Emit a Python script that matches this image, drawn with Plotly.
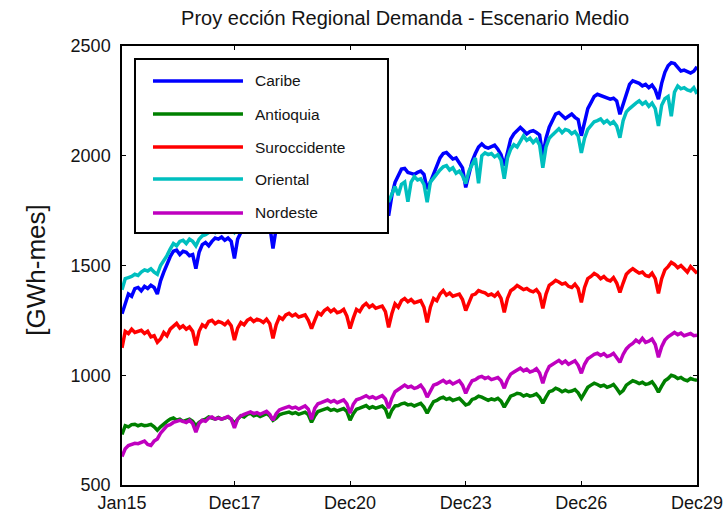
import plotly.graph_objects as go

# Monthly index Jan15 .. Dec29 (180 months)
months = list(range(1, 181))
tick_positions = [1, 36, 72, 108, 144, 180]
tick_labels = ["Jan15", "Dec17", "Dec20", "Dec23", "Dec26", "Dec29"]
y_ticks = [500, 1000, 1500, 2000, 2500]

caribe = [
    1280, 1320, 1370, 1360, 1395, 1400, 1385, 1405, 1395, 1410, 1400, 1370,
    1430, 1470, 1510, 1540, 1565, 1570, 1550, 1565, 1560, 1545, 1550, 1486,
    1560, 1595, 1605, 1590, 1610, 1625, 1620, 1630, 1615, 1625, 1610, 1532,
    1620, 1650, 1665, 1680, 1690, 1700, 1685, 1690, 1680, 1695, 1680, 1577,
    1670, 1700, 1720, 1735, 1750, 1745, 1730, 1740, 1735, 1750, 1730, 1665,
    1720, 1745, 1770, 1785, 1800, 1810, 1790, 1795, 1785, 1800, 1790, 1700,
    1770, 1800, 1820, 1840, 1855, 1860, 1845, 1850, 1840, 1855, 1840, 1727,
    1818, 1879, 1909, 1939, 1942, 1924, 1920, 1915, 1924, 1930, 1915, 1848,
    1880, 1920, 1960, 1990, 2010, 2015, 2000, 1985, 1990, 1970, 1945, 1856,
    1925, 1975, 2010, 2040, 2054, 2040, 2035, 2042, 2048, 2030, 2005, 1954,
    2015, 2076, 2100, 2114, 2129, 2115, 2099, 2110, 2114, 2106, 2095, 2000,
    2080, 2130, 2165, 2190, 2197, 2185, 2170, 2180, 2190, 2175, 2165, 2091,
    2151, 2215, 2242, 2270, 2280, 2275, 2268, 2265, 2258, 2262, 2250, 2189,
    2235, 2290, 2325, 2341, 2335, 2330, 2318, 2325, 2310, 2322, 2300, 2258,
    2330, 2380, 2410, 2424, 2420, 2400, 2386, 2390, 2385, 2377, 2385, 2405,
]

antioquia = [
    730, 770, 765, 775, 777, 770, 775, 770, 772, 776, 765, 750,
    765, 780, 790, 800, 805, 795, 800, 790, 795, 800, 790, 770,
    785, 795, 800, 810, 805, 800, 808, 800, 805, 810, 800, 780,
    800, 815, 810, 822, 827, 815, 820, 812, 818, 825, 815, 795,
    805, 820, 825, 830, 832, 825, 830, 822, 828, 832, 820, 786,
    815, 835, 840, 845, 850, 840, 845, 838, 842, 848, 835, 795,
    825, 845, 850, 858, 862, 850, 857, 850, 855, 860, 845, 805,
    840, 860, 862, 870, 873, 865, 868, 860, 866, 872, 855, 827,
    855, 880, 885, 895, 900, 890, 895, 885, 890, 895, 880, 865,
    870, 890, 895, 905, 900, 895, 886, 892, 888, 895, 882, 855,
    880, 905, 910, 918, 915, 905, 912, 905, 908, 915, 900, 873,
    900, 925, 930, 941, 935, 925, 932, 925, 928, 935, 920, 895,
    920, 945, 955, 964, 958, 950, 955, 945, 950, 958, 940, 918,
    930, 955, 965, 975, 970, 962, 968, 958, 962, 970, 950, 923,
    950, 975, 985, 1000, 995, 985, 990, 980, 975, 985, 980, 977,
]

suroccidente = [
    1125, 1200, 1190, 1210, 1195, 1200, 1205, 1190, 1200, 1175, 1180, 1150,
    1165, 1195, 1180, 1210, 1225, 1236, 1215, 1225, 1210, 1220, 1200, 1136,
    1200, 1230, 1220, 1245, 1250, 1235, 1245, 1240, 1230, 1245, 1225, 1160,
    1215, 1240, 1230, 1250, 1259, 1245, 1255, 1250, 1240, 1255, 1235, 1168,
    1230, 1265, 1255, 1275, 1282, 1270, 1278, 1265, 1270, 1275, 1250, 1213,
    1250, 1285, 1275, 1295, 1305, 1290, 1300, 1285, 1290, 1300, 1270, 1213,
    1260, 1300, 1290, 1315, 1327, 1310, 1320, 1305, 1310, 1315, 1290, 1218,
    1280, 1325, 1310, 1340, 1350, 1335, 1345, 1330, 1335, 1340, 1310, 1241,
    1310, 1350, 1340, 1370, 1386, 1365, 1375, 1360, 1365, 1370, 1345, 1295,
    1330, 1365, 1370, 1386, 1380, 1375, 1364, 1370, 1360, 1375, 1350, 1286,
    1350, 1385, 1395, 1409, 1400, 1390, 1395, 1385, 1380, 1390, 1370, 1305,
    1370, 1410, 1420, 1432, 1425, 1415, 1420, 1405, 1400, 1415, 1395, 1332,
    1400, 1440, 1450, 1464, 1455, 1440, 1450, 1435, 1430, 1445, 1420, 1377,
    1420, 1460, 1475, 1486, 1475, 1465, 1470, 1455, 1450, 1465, 1440, 1373,
    1440, 1480, 1495, 1514, 1505, 1490, 1500, 1485, 1470, 1495, 1480, 1464,
]

oriental = [
    1390, 1440, 1445, 1450, 1460, 1455, 1470, 1480, 1475, 1485, 1470, 1460,
    1500, 1520, 1545, 1575, 1600, 1590, 1610, 1615, 1600, 1620, 1610, 1590,
    1620, 1635, 1640, 1650, 1660, 1650, 1665, 1670, 1660, 1675, 1665, 1650,
    1670, 1690, 1700, 1690, 1710, 1700, 1715, 1720, 1705, 1725, 1715, 1680,
    1700, 1720, 1735, 1730, 1745, 1735, 1750, 1755, 1745, 1760, 1750, 1715,
    1740, 1760, 1775, 1770, 1785, 1775, 1790, 1795, 1785, 1800, 1790, 1750,
    1770, 1790, 1810, 1800, 1820, 1810, 1830, 1835, 1820, 1840, 1830, 1790,
    1830, 1860, 1820, 1870, 1880, 1790, 1880, 1905, 1890, 1895, 1870, 1788,
    1880, 1900, 1915, 1935, 1950, 1955, 1935, 1945, 1920, 1930, 1910, 1873,
    1930, 1965, 1990, 1875, 2000, 2013, 2005, 2010, 1995, 2005, 1980, 1895,
    1990, 2030, 2050, 2040, 2070, 2091, 2070, 2080, 2060, 2075, 2050, 1945,
    2040, 2080, 2095, 2110, 2123, 2105, 2120, 2115, 2100, 2110, 2090, 2013,
    2080, 2120, 2140, 2155, 2160, 2168, 2150, 2160, 2145, 2155, 2135, 2082,
    2160, 2200, 2215, 2230, 2240, 2250, 2235, 2245, 2225, 2240, 2215, 2136,
    2230, 2260, 2270, 2180, 2290, 2318, 2305, 2310, 2300, 2295, 2310, 2282,
]

nordeste = [
    630, 665, 680, 684, 690, 688, 695, 700, 685, 680, 700, 710,
    736, 755, 770, 775, 785, 790, 795, 790, 785, 795, 780, 741,
    780, 795, 790, 805, 810, 800, 805, 800, 805, 812, 800, 760,
    800, 815, 822, 828, 833, 825, 830, 822, 828, 836, 822, 795,
    825, 842, 848, 852, 858, 850, 855, 846, 852, 860, 845, 800,
    850, 870, 875, 882, 887, 878, 885, 875, 880, 888, 870, 827,
    868, 888, 893, 902, 907, 897, 902, 894, 900, 907, 892, 850,
    895, 925, 935, 945, 955, 945, 950, 940, 945, 955, 935, 900,
    930, 955, 960, 970, 977, 965, 972, 960, 968, 975, 955, 918,
    950, 975, 980, 990, 995, 985, 991, 980, 985, 990, 975, 941,
    980, 1005, 1015, 1025, 1032, 1020, 1028, 1015, 1020, 1030, 1010, 964,
    1010, 1040, 1050, 1060, 1068, 1055, 1065, 1050, 1058, 1066, 1045, 1009,
    1050, 1075, 1085, 1095, 1100, 1090, 1098, 1085, 1090, 1100, 1080, 1059,
    1095, 1120, 1135, 1145, 1160, 1150, 1168, 1150, 1155, 1165, 1140, 1082,
    1130, 1160, 1175, 1185, 1195, 1185, 1192, 1180, 1185, 1190, 1180, 1182,
]

series_names = ["Caribe", "Antioquia", "Suroccidente", "Oriental", "Nordeste"]
series_values = [caribe, antioquia, suroccidente, oriental, nordeste]
series_colors = ["#0000FF", "#008000", "#FF0000", "#00BFBF", "#BF00BF"]

FONT = "Liberation Sans, Arial, sans-serif"
TXT = "#141414"

fig = go.Figure()
for name, vals, col in zip(series_names, series_values, series_colors):
    fig.add_trace(go.Scatter(x=months, y=vals, mode="lines", name=name,
                             line=dict(color=col, width=3.5), showlegend=False))

# Manual legend (MATLAB style box with long line samples)
leg_x0, leg_x1, leg_y0, leg_y1 = 0.0226, 0.4626, 0.574, 0.9704
fig.add_shape(type="rect", xref="paper", yref="paper",
              x0=leg_x0, x1=leg_x1, y0=leg_y0, y1=leg_y1,
              line=dict(color="black", width=2), fillcolor="white", layer="above")
row_y = [0.9203, 0.8451, 0.7699, 0.6970, 0.6196]
for name, col, ry in zip(series_names, series_colors, row_y):
    fig.add_shape(type="line", xref="paper", yref="paper",
                  x0=0.0539, x1=0.2104, y0=ry, y1=ry,
                  line=dict(color=col, width=3.5), layer="above")
    fig.add_annotation(xref="paper", yref="paper", x=0.2278, y=ry,
                       xanchor="left", yanchor="middle", text=name,
                       showarrow=False, font=dict(family=FONT, size=15.5, color=TXT))

# Y axis title
fig.add_annotation(xref="paper", yref="paper", x=-0.150, y=0.49,
                   xanchor="center", yanchor="middle", text="[GWh-mes]",
                   textangle=-90, showarrow=False,
                   font=dict(family=FONT, size=26, color=TXT))

fig.update_layout(
    width=726, height=513,
    margin=dict(l=122, r=29, t=46, b=28, autoexpand=False),
    paper_bgcolor="white", plot_bgcolor="white",
    title=dict(text="Proy ección Regional Demanda - Escenario Medio",
               x=0.558, xanchor="center", y=0.965, yanchor="middle",
               font=dict(family=FONT, size=20, color=TXT)),
    font=dict(family=FONT, size=18, color=TXT),
)
fig.update_xaxes(range=[1, 180], tickvals=tick_positions, ticktext=tick_labels,
                 automargin=False,
                 showgrid=False, zeroline=False, showline=True, mirror="allticks",
                 linecolor="black", linewidth=1.5, ticks="inside", ticklen=4,
                 tickcolor="black", ticklabelstandoff=1,
                 tickfont=dict(family=FONT, size=18, color=TXT))
fig.update_yaxes(range=[500, 2500], tickvals=y_ticks, automargin=False,
                 showgrid=False, zeroline=False, showline=True, mirror="allticks",
                 linecolor="black", linewidth=1.5, ticks="inside", ticklen=4,
                 tickcolor="black", ticklabelstandoff=6,
                 tickfont=dict(family=FONT, size=18, color=TXT))

fig.write_html("out.html")
